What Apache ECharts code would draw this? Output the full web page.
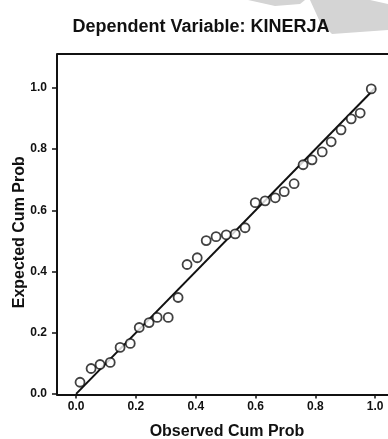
<!DOCTYPE html>
<html>
<head>
<meta charset="utf-8">
<script src="https://cdn.jsdelivr.net/npm/echarts@6/dist/echarts.min.js"></script>
<style>
  html, body { margin: 0; padding: 0; background: #fff; }
  #chart { width: 388px; height: 439px; }
</style>
</head>
<body>
<div id="chart"></div>
<script>
// observed vs expected cumulative probabilities
var observed = [0.013, 0.050, 0.080, 0.114, 0.147, 0.181, 0.211, 0.244, 0.271, 0.308,
                0.341, 0.371, 0.405, 0.435, 0.468, 0.502, 0.532, 0.565, 0.599, 0.632,
                0.666, 0.696, 0.729, 0.759, 0.789, 0.823, 0.853, 0.886, 0.920, 0.950, 0.987];
var expected = [0.038, 0.083, 0.096, 0.103, 0.152, 0.165, 0.217, 0.233, 0.250, 0.250,
                0.315, 0.423, 0.445, 0.501, 0.514, 0.520, 0.523, 0.543, 0.625, 0.631,
                0.641, 0.661, 0.687, 0.749, 0.765, 0.791, 0.824, 0.863, 0.899, 0.918, 0.997];
// reference diagonal
var diagonal = [[0, 0], [1, 1]];
var tickValues = [0, 0.2, 0.4, 0.6, 0.8, 1.0];

var points = observed.map(function (x, i) { return [x, expected[i]]; });

var myChart = echarts.init(document.getElementById('chart'));
var font = 'Liberation Sans';

var option = {
    backgroundColor: '#fff',
    animation: false,
    title: {
        text: 'Dependent Variable: KINERJA',
        left: 196,
        top: 13,
        textAlign: 'center',
        textStyle: { fontFamily: font, fontSize: 18, fontWeight: 'bold', color: '#111' }
    },
    graphic: [{
        // grey scan shadows in the top right corner
        type: 'polygon',
        z: -10,
        shape: { points: [[248, 0], [305, 0], [300, 4], [275, 6]] },
        style: { fill: '#d4d4d4' }
    }, {
        type: 'polygon',
        z: -10,
        shape: { points: [[310, 0], [370, 0], [388, 4], [388, 30], [332, 34], [320, 22]] },
        style: { fill: '#d4d4d4' }
    }, {
        // top frame line
        type: 'line',
        shape: { x1: 57, y1: 54, x2: 388, y2: 54 },
        style: { stroke: '#111', lineWidth: 2 }
    }],
    grid: { left: 57, right: 0, top: 54, bottom: 44.5, outerBoundsMode: 'none' },
    xAxis: {
        type: 'value',
        min: -0.064,
        max: 1.043,
        name: 'Observed Cum Prob',
        nameLocation: 'middle',
        nameGap: 29,
        nameMoveOverlap: false,
        nameTextStyle: { fontFamily: font, fontSize: 16, fontWeight: 'bold', color: '#111', padding: [0, 0, 0, 9] },
        axisLine: { onZero: false, lineStyle: { color: '#111', width: 2 } },
        axisTick: { customValues: tickValues, length: 4, lineStyle: { color: '#111', width: 1.5 } },
        axisLabel: {
            customValues: tickValues,
            margin: 6,
            fontFamily: font, fontSize: 12, fontWeight: 'bold', color: '#111',
            formatter: function (v) { return v.toFixed(1); }
        },
        splitLine: { show: false }
    },
    yAxis: {
        type: 'value',
        min: -0.002,
        max: 1.111,
        name: 'Expected Cum Prob',
        nameLocation: 'middle',
        nameGap: 29,
        nameMoveOverlap: false,
        nameTextStyle: { fontFamily: font, fontSize: 16, fontWeight: 'bold', color: '#111', padding: [0, 16, 0, 0] },
        axisLine: { onZero: false, lineStyle: { color: '#111', width: 2 } },
        axisTick: { customValues: tickValues, length: 5, lineStyle: { color: '#111', width: 1.5 } },
        axisLabel: {
            customValues: tickValues,
            margin: 10,
            fontFamily: font, fontSize: 12, fontWeight: 'bold', color: '#111',
            formatter: function (v) { return v.toFixed(1); }
        },
        splitLine: { show: false }
    },
    series: [{
        type: 'line',
        data: diagonal,
        symbol: 'none',
        lineStyle: { color: '#111', width: 2 },
        z: 2
    }, {
        type: 'scatter',
        data: points,
        symbol: 'circle',
        symbolSize: 9,
        itemStyle: { color: '#fff', borderColor: '#111', borderWidth: 1.8 },
        z: 3
    }]
};
myChart.setOption(option);
</script>
</body>
</html>
